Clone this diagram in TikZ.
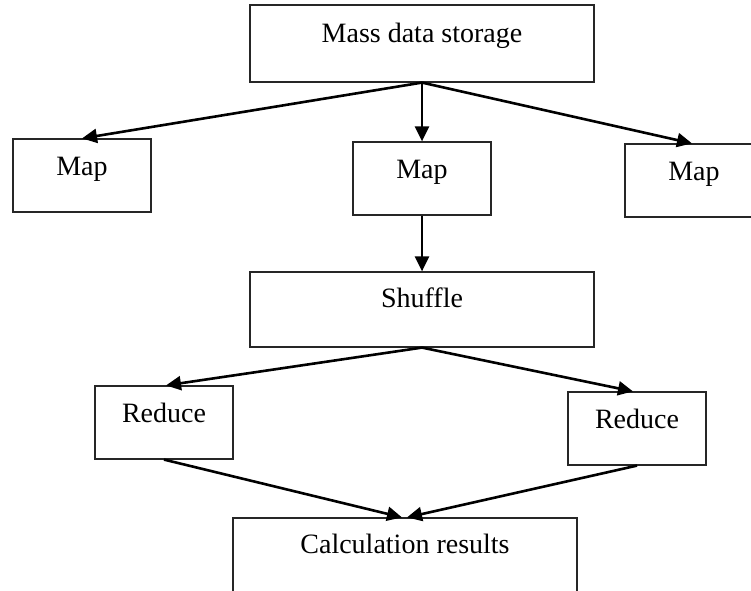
\documentclass[tikz,border=0pt]{standalone}
\usepackage{fontspec}
\setmainfont{Liberation Serif}
\usetikzlibrary{arrows.meta}
\begin{document}
\begin{tikzpicture}[x=1bp,y=-1bp,
  box/.style={draw=black!85, line width=1.2bp, inner sep=0pt, text depth=#1,
    font=\fontsize{28bp}{33bp}\selectfont, anchor=center},
  flow/.style={line width=2.6bp, -{Triangle[length=15bp,width=14bp]}}]
\useasboundingbox (0,0) rectangle (751,591);
\clip (0,0) rectangle (751,591);
% boxes
\node[box=39bp, minimum width=344bp, minimum height=77bp, text height=38bp] (store) at (422,43.5) {Mass data storage};
\node[box=36bp, minimum width=138bp, minimum height=73bp, text height=37bp] (mapL) at (82,175.5) {Map};
\node[box=36bp, minimum width=138bp, minimum height=73bp, text height=37bp] (mapM) at (422,178.5) {Map};
\node[box=36bp, minimum width=138bp, minimum height=73bp, text height=37bp] (mapR) at (694,180.5) {Map};
\node[box=40bp, minimum width=344bp, minimum height=75bp, text height=35bp] (shuffle) at (422,309.5) {Shuffle};
\node[box=37bp, minimum width=138bp, minimum height=73bp, text height=36bp] (redL) at (164,422.5) {Reduce};
\node[box=37bp, minimum width=138bp, minimum height=73bp, text height=36bp] (redR) at (637,428.5) {Reduce};
\node[box=45bp, minimum width=344bp, minimum height=80bp, text height=35bp] (calc) at (405,558) {Calculation results};
% connectors
\draw[flow] (store.south) -- (mapL.north);
\draw[flow] (store.south) -- (mapM.north);
\draw[flow] (store.south) -- ([xshift=-2bp]mapR.north);
\draw[flow] (mapM.south) -- (shuffle.north);
\draw[flow] (shuffle.south) -- ([xshift=2bp]redL.north);
\draw[flow] (shuffle.south) -- ([xshift=-4bp]redR.north);
\draw[flow] (redL.south) -- ([xshift=-3bp]calc.north);
\draw[flow] (redR.south) -- ([xshift=2bp]calc.north);
\end{tikzpicture}
\end{document}
